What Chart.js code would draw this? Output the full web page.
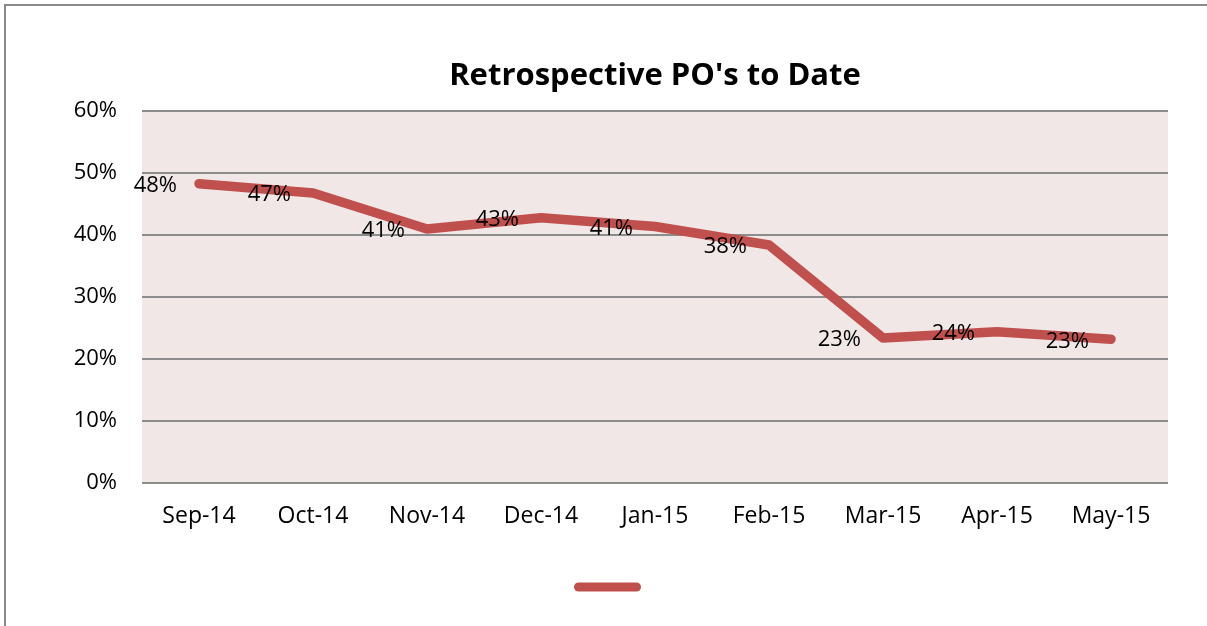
<!DOCTYPE html>
<html>
<head>
  <title>Retrospective PO's to Date</title>
  <script src="https://cdn.jsdelivr.net/npm/chart.js"></script>
  <style>
    html, body { margin: 0; padding: 0; background: #fff; overflow: hidden; }
    #frame {
      position: absolute; left: 4px; top: 4px; width: 1220px; height: 640px;
      border-left: 2px solid #8a8a8a; border-top: 2px solid #8a8a8a;
    }
    #chart-container { position: absolute; left: 0; top: 0; width: 1207px; height: 626px; }
  </style>
</head>
<body>
  <div id="frame"></div>
  <div id="chart-container">
    <canvas id="chart"></canvas>
  </div>

  <script>
    // data
    const months = ['Sep-14', 'Oct-14', 'Nov-14', 'Dec-14', 'Jan-15', 'Feb-15', 'Mar-15', 'Apr-15', 'May-15'];
    const poShare = [48.3, 46.8, 41.0, 42.8, 41.4, 38.4, 23.4, 24.4, 23.2];
    const yTicks = [0, 10, 20, 30, 40, 50, 60];

    const fontName = "'Open Sans', 'Liberation Sans', sans-serif";

    // pink plot background
    const plotBackground = {
      id: 'plotBackground',
      beforeDraw(chart) {
        const a = chart.chartArea;
        const ctx = chart.ctx;
        ctx.save();
        ctx.fillStyle = '#f2e7e7';
        ctx.fillRect(a.left, a.top, a.right - a.left, a.bottom - a.top);
        ctx.restore();
      }
    };

    // value labels to the left of each point
    const pointLabels = {
      id: 'pointLabels',
      afterDatasetsDraw(chart) {
        const ctx = chart.ctx;
        const meta = chart.getDatasetMeta(0);
        ctx.save();
        ctx.font = '22px ' + fontName;
        ctx.fillStyle = '#000';
        ctx.textAlign = 'right';
        ctx.textBaseline = 'middle';
        meta.data.forEach(function(pt, i) {
          ctx.fillText(Math.round(poShare[i]) + '%', pt.x - 22, pt.y + 2);
        });
        ctx.restore();
      }
    };

    new Chart(document.getElementById('chart'), {
      type: 'line',
      data: {
        labels: months,
        datasets: [{
          label: '',
          data: poShare,
          borderColor: '#c0504d',
          backgroundColor: '#c0504d',
          borderWidth: 9.5,
          borderCapStyle: 'round',
          borderJoinStyle: 'round',
          tension: 0,
          pointRadius: 0,
          pointHoverRadius: 0,
          fill: false
        }]
      },
      options: {
        responsive: true,
        maintainAspectRatio: false,
        animation: false,
        events: [],
        layout: { padding: { left: 0, right: 39, top: 0, bottom: 24 } },
        plugins: {
          title: {
            display: true,
            fullSize: false,
            text: "Retrospective PO's to Date",
            color: '#000',
            font: { family: fontName, size: 31, weight: 'bold' },
            padding: { top: 58, bottom: 16 }
          },
          legend: {
            display: true,
            fullSize: false,
            position: 'bottom',
            labels: {
              usePointStyle: true,
              pointStyleWidth: 58,
              boxWidth: 58,
              boxHeight: 10,
              font: { family: fontName, size: 10 },
              padding: 20,
              // series has no name: blank text keeps the swatch left of centre
              generateLabels(chart) {
                const items = Chart.defaults.plugins.legend.labels.generateLabels(chart);
                items.forEach(function(it) {
                  it.text = '\u2003'.repeat(9);
                  it.pointStyle = 'line';
                  it.lineWidth = 9;
                  it.lineCap = 'round';
                  it.lineJoin = 'round';
                  it.strokeStyle = '#c0504d';
                });
                return items;
              }
            }
          },
          tooltip: { enabled: false }
        },
        scales: {
          x: {
            offset: true,
            grid: { display: false, drawTicks: false },
            border: { display: false },
            afterFit(scale) {
              scale.height = 79;
            },
            ticks: {
              color: '#000',
              font: { family: fontName, size: 23 },
              padding: 20,
              maxRotation: 0
            }
          },
          y: {
            min: 0,
            max: 60,
            afterBuildTicks(scale) {
              scale.ticks = yTicks.map(v => ({ value: v }));
            },
            afterFit(scale) {
              scale.width = 142;
            },
            grid: { color: '#8c8c8c', lineWidth: 2, drawTicks: false },
            border: { display: false },
            ticks: {
              color: '#000',
              font: { family: fontName, size: 22 },
              padding: 25,
              callback: v => v + '%'
            }
          }
        }
      },
      plugins: [plotBackground, pointLabels]
    });
  </script>
</body>
</html>
